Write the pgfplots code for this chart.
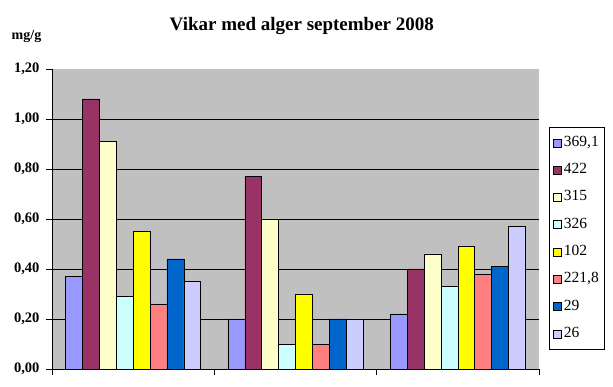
\documentclass[border=0pt]{standalone}
\usepackage{fontspec}
\setmainfont{Liberation Serif}
\usepackage{pgfplots}
\pgfplotsset{compat=1.18}
\definecolor{plotbg}{RGB}{192,192,192}
\definecolor{cA}{RGB}{153,153,255}
\definecolor{cB}{RGB}{153,51,102}
\definecolor{cC}{RGB}{255,255,204}
\definecolor{cD}{RGB}{204,255,255}
\definecolor{cE}{RGB}{255,255,0}
\definecolor{cF}{RGB}{255,128,128}
\definecolor{cG}{RGB}{0,102,204}
\definecolor{cH}{RGB}{204,204,255}
\begin{document}
\begin{tikzpicture}
\begin{axis}[
  at={(52pt,17pt)}, anchor=south west,
  scale only axis, width=487pt, height=300pt,
  clip=false,
  xmin=-0.5, xmax=2.5, ymin=0, ymax=1.2,
  ybar=0pt, bar width=16.9pt,
  axis lines=left, axis line style={-, black, line width=0.7pt},
  axis background/.style={fill=plotbg},
  xtick={-0.5,0.5,1.5,2.5}, xticklabels={},
  ytick={0,0.2,0.4,0.6,0.8,1.0,1.2},
  extra y ticks={0.2,0.4,0.6,0.8,1.0},
  extra y tick labels={},
  extra y tick style={grid=major, major tick length=0pt},
  major grid style={black, line width=0.7pt},
  tick align=outside, major tick length=6pt,
  tick style={black, line width=0.7pt},
  /pgf/number format/assume math mode=true,
  yticklabel={\pgfmathprintnumber[fixed, fixed zerofill, precision=2, use comma]{\tick}},
  yticklabel style={font=\fontsize{14.5}{16}\selectfont\bfseries, xshift=-3pt},
  legend style={at={(1.0205,0.8067)}, anchor=north west, draw=black, line width=0.7pt,
    font=\fontsize{15.5}{17}\selectfont, inner xsep=4pt, inner ysep=8pt,
    row sep=12.3pt,
    nodes={inner xsep=2pt, inner ysep=1pt, text height=10pt, text depth=3pt},
    /tikz/every odd column/.append style={column sep=0pt},
    /tikz/every even column/.append style={column sep=0pt}},
  legend cell align=left,
  legend image code/.code={\draw[#1, line width=0.6pt] (0pt,-4pt) rectangle (8pt,4pt);},
  every axis plot/.append style={draw=black, line width=0.6pt},
]
\addplot[fill=cA] coordinates {(0,0.37) (1,0.20) (2,0.22)};
\addplot[fill=cB] coordinates {(0,1.08) (1,0.77) (2,0.40)};
\addplot[fill=cC] coordinates {(0,0.91) (1,0.60) (2,0.46)};
\addplot[fill=cD] coordinates {(0,0.29) (1,0.10) (2,0.33)};
\addplot[fill=cE] coordinates {(0,0.55) (1,0.30) (2,0.49)};
\addplot[fill=cF] coordinates {(0,0.26) (1,0.10) (2,0.38)};
\addplot[fill=cG] coordinates {(0,0.44) (1,0.20) (2,0.41)};
\addplot[fill=cH] coordinates {(0,0.35) (1,0.20) (2,0.57)};
\legend{{369,1},422,315,326,102,{221,8},29,26}
\coordinate (ttl) at (rel axis cs:0.513,1.143);
\coordinate (mgg) at (rel axis cs:-0.0524,1.107);
\coordinate (bbl) at (rel axis cs:-0.10678,-0.05667);
\coordinate (btr) at (rel axis cs:1.15195,1.23);
\end{axis}
\node[font=\fontsize{19}{22}\selectfont\bfseries] at (ttl) {Vikar med alger september 2008};
\node[font=\fontsize{14}{16}\selectfont\bfseries] at (mgg) {mg/g};
\pgfresetboundingbox
\path[use as bounding box] (bbl) rectangle (btr);
\end{tikzpicture}
\end{document}
